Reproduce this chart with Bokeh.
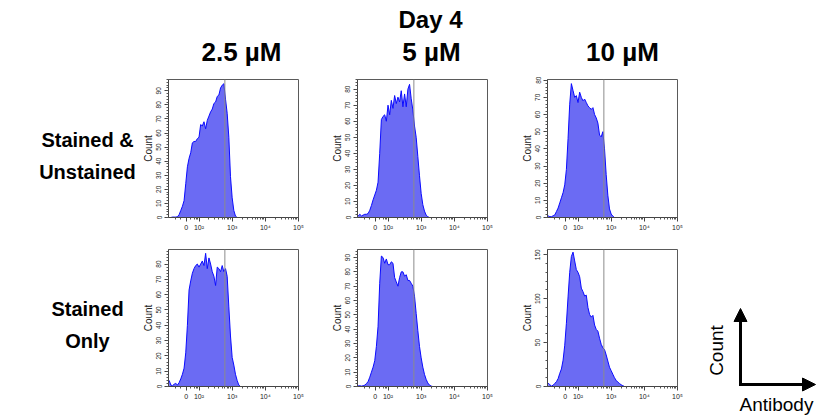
import math
from bokeh.plotting import figure
from bokeh.layouts import column, row
from bokeh.models import (Range1d, FixedTicker, SingleIntervalTicker, Span, Label,
                          Arrow, NormalHead, CustomJSTickFormatter)
from bokeh.embed import file_html
from bokeh.resources import INLINE

# ---------------- data ----------------
SUPER_TITLE = "Day 4"
COLUMN_TITLES = ["2.5 µM", "5 µM", "10 µM"]
ROW_TITLES = [["Stained &", "Unstained"], ["Stained", "Only"]]
LEGEND_Y = "Count"
LEGEND_X = "Antibody"

# histogram bin centres on the display (biexponential) axis, in decades
BIN_DECADE = [1.10, 1.15, 1.20, 1.25, 1.30, 1.35, 1.40, 1.45, 1.50, 1.55,
              1.60, 1.65, 1.70, 1.75, 1.80, 1.85, 1.90, 1.95, 2.00, 2.05,
              2.10, 2.15, 2.20, 2.25, 2.30, 2.35, 2.40, 2.45, 2.50, 2.55,
              2.60, 2.65, 2.70, 2.75, 2.80, 2.85, 2.90, 2.95, 3.00, 3.05,
              3.10, 3.15, 3.20, 3.25, 3.30, 3.35, 3.40]

SU_2_5 = [0, 0, 0.3, 0.3, 0.3, 0.5, 2, 5, 8, 12,
          24, 36, 42, 46, 53, 54, 54, 56, 57, 66,
          65, 68, 63, 69, 72, 75, 77, 81, 82, 86,
          87, 92, 94, 95, 84, 74, 57, 29, 14, 5,
          1, 0, 0, 0, 0, 0, 0]
SU_5 = [1, 2, 1, 1.5, 2, 2, 2.5, 4.5, 7.5, 11,
        14, 17, 22, 40, 61, 63, 64, 60, 70, 64,
        73, 68, 76, 71, 75, 72, 79, 69, 77, 69,
        80, 83, 74, 67, 57, 50, 38, 26, 15, 8,
        4, 1.5, 0.5, 0, 0, 0, 0]
SU_10 = [1, 0.5, 0.5, 1, 1.5, 3.5, 5.5, 8.5, 11.5, 14.5,
         19, 28, 46, 66, 78, 74, 70, 71, 67, 73,
         70, 68, 69, 67, 65, 64, 63, 64, 60, 58,
         55, 48, 47, 50, 40, 25, 13, 5, 2, 0.8,
         0, 0, 0, 0, 0, 0, 0]
SO_2_5 = [4, 1, 0.5, 1.5, 2, 1, 2.5, 5, 8, 12,
          22, 40, 63, 69, 74, 77, 79, 80, 78, 80,
          82, 79, 87, 77, 84, 80, 75, 72, 66, 78,
          77, 75, 79, 75, 77, 72, 52, 33, 19, 14,
          8, 4, 1, 0, 0, 0, 0]
SO_5 = [0.5, 0.5, 0.3, 0.5, 1, 2, 3.5, 6.5, 10, 13.5,
        18, 28, 42, 72, 91, 90, 86, 89, 85, 85,
        87, 86, 76, 73, 70, 76, 80, 80, 77, 78,
        74, 74, 72, 70, 63, 51, 39, 28, 20, 13.5,
        8.5, 5, 2.5, 1, 0.3, 0, 0]
SO_10 = [4, 2, 0.5, 1.5, 3.5, 5.5, 9, 15, 20, 30,
         47, 72, 102, 130, 148, 153, 143, 133, 130, 125,
         112, 108, 103, 104, 90, 82, 79, 81, 70, 65,
         63, 55, 48, 44, 42, 36, 29, 22, 18, 14,
         10, 7, 5, 3.5, 2, 1, 0]

PANEL_COUNTS = [[SU_2_5, SU_5, SU_10], [SO_2_5, SO_5, SO_10]]
PANEL_YMAX = [[98, 86, 80.4], [89.5, 95.6, 156]]
PANEL_YSTEP = [[10, 10, 10], [10, 10, 50]]

GATE = 2.78
X_START, X_END = 1.08, 5.001
X_TICKS = [1.61, 2.0, 3.0, 4.0, 5.0]
X_TICK_LABELS = ["0", "10²", "10³", "10⁴", "10⁵"]
MINOR_X = [1.30, 1.45, 1.75, 1.85, 1.92, 1.96] + [
    d + math.log10(k) for d in (2, 3, 4) for k in range(2, 10)]

# ---------------- style ----------------
FONT = "Liberation Sans"
FILL = "#6b6bf3"
EDGE = "#0b0bff"
FRAME_W = 130
BORDER_L = 32


def make_panel(counts, ymax, ystep, right, top, frame_h, bottom):
    p = figure(width=BORDER_L + FRAME_W + right, height=top + frame_h + bottom,
               x_range=Range1d(X_START, X_END), y_range=Range1d(0, ymax),
               output_backend="svg", toolbar_location=None,
               min_border_left=BORDER_L, min_border_right=right,
               min_border_top=top, min_border_bottom=bottom)
    p.grid.visible = False
    p.outline_line_color = "#5a5a5a"
    p.outline_line_width = 1
    p.varea(x=BIN_DECADE, y1=0, y2=counts, fill_color=FILL)
    p.line(BIN_DECADE, counts, line_color=EDGE, line_width=1)
    p.add_layout(Span(location=GATE, dimension="height",
                      line_color="#8c8c8c", line_width=1))

    xa = p.xaxis[0]
    xa.ticker = FixedTicker(ticks=X_TICKS, minor_ticks=MINOR_X)
    xa.formatter = CustomJSTickFormatter(
        args=dict(t=X_TICKS, l=X_TICK_LABELS),
        code="for (let i = 0; i < t.length; i++) { if (Math.abs(t[i] - tick) < 1e-6) return l[i]; } return '';")
    ya = p.yaxis[0]
    ya.ticker = SingleIntervalTicker(interval=ystep, num_minor_ticks=5)
    ya.axis_label = "Count"
    ya.major_label_orientation = "vertical"
    for ax in (xa, ya):
        ax.axis_line_color = "#444444"
        ax.major_tick_line_color = "#444444"
        ax.minor_tick_line_color = "#555555"
        ax.major_tick_out = 4
        ax.major_tick_in = 0
        ax.minor_tick_out = 2
        ax.minor_tick_in = 0
        ax.major_label_text_font = FONT
        ax.major_label_text_color = "#222222"
    xa.major_label_standoff = 2
    xa.major_label_text_font_size = "7px"
    ya.major_label_standoff = 3
    ya.major_label_text_font_size = "6.5px"
    ya.axis_label_standoff = 0
    ya.axis_label_text_font = FONT
    ya.axis_label_text_font_size = "10px"
    ya.axis_label_text_font_style = "normal"
    ya.axis_label_text_color = "#222222"
    return p


def blank(w, top, frame_h, bottom):
    # coordinates are pixels measured from the bottom-left of the frame
    f = figure(width=w, height=top + frame_h + bottom,
               x_range=Range1d(0, w), y_range=Range1d(0, frame_h),
               x_axis_type=None, y_axis_type=None,
               output_backend="svg", toolbar_location=None,
               min_border_left=0, min_border_right=0,
               min_border_top=top, min_border_bottom=bottom)
    f.grid.visible = False
    f.outline_line_color = None
    return f


def bold_label(f, x, y, text, size):
    f.add_layout(Label(x=x, y=y, text=text, text_font=FONT, text_font_size=size,
                       text_font_style="bold", text_align="center",
                       text_baseline="alphabetic", text_color="black"))


# header (page has no margin: coordinates equal page pixels, y from bottom)
header = blank(819, 0, 74, 0)
bold_label(header, 430, 55, SUPER_TITLE, "24px")
for cx, t in zip([241, 431, 622], COLUMN_TITLES):
    bold_label(header, cx, 23, t, "26px")

rights = [27, 28, 15]
row1_h = (5, 138, 22)
row2_h = (10, 137, 34)

# row 1
lab1 = blank(136, *row1_h)
bold_label(lab1, 87, 78, ROW_TITLES[0][0], "20px")
bold_label(lab1, 87, 46, ROW_TITLES[0][1], "20px")
panels1 = [make_panel(PANEL_COUNTS[0][i], PANEL_YMAX[0][i], PANEL_YSTEP[0][i],
                      rights[i], *row1_h) for i in range(3)]

# row 2
lab2 = blank(136, *row2_h)
bold_label(lab2, 87, 78, ROW_TITLES[1][0], "20px")
bold_label(lab2, 87, 46, ROW_TITLES[1][1], "20px")
panels2 = [make_panel(PANEL_COUNTS[1][i], PANEL_YMAX[1][i], PANEL_YSTEP[1][i],
                      rights[i], *row2_h) for i in range(3)]

# axis key: its own un-aligned figure, coordinates = pixels from its bottom-left
key = blank(127, 0, sum(row2_h), 0)
key.add_layout(Arrow(end=NormalHead(size=13, fill_color="black", line_color="black"),
                     x_start=48, y_start=34.5, x_end=48, y_end=112,
                     line_color="black", line_width=3))
key.add_layout(Arrow(end=NormalHead(size=13, fill_color="black", line_color="black"),
                     x_start=46.5, y_start=36, x_end=123, y_end=36,
                     line_color="black", line_width=3))
key.add_layout(Label(x=24, y=70, text=LEGEND_Y, angle=math.pi / 2, text_font=FONT,
                     text_font_size="19px", text_align="center", text_baseline="middle",
                     text_color="black"))
key.add_layout(Label(x=47, y=16, text=LEGEND_X, text_font=FONT, text_font_size="19px",
                     text_align="left", text_baseline="alphabetic", text_color="black"))

layout = column(header, row(lab1, *panels1), row(lab2, *panels2, column(key)))

open("out.html", "w").write(file_html(layout, INLINE))
